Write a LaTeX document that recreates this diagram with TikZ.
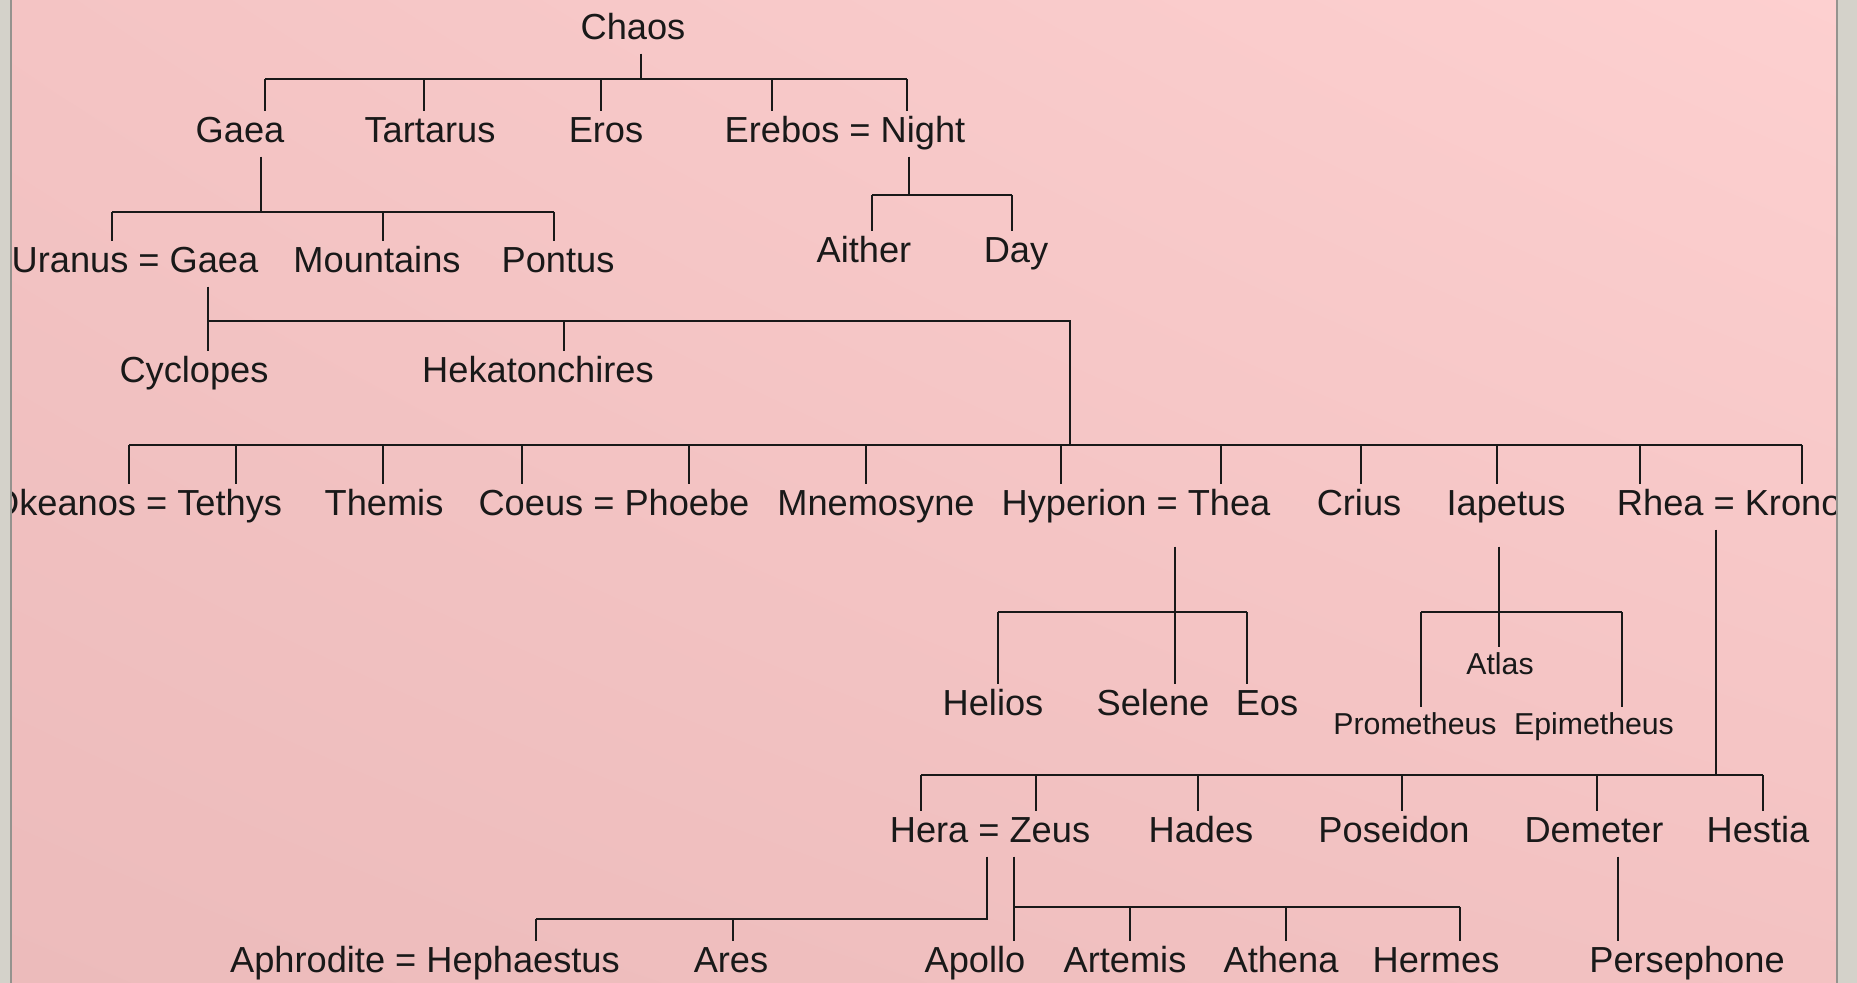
\documentclass[tikz,border=0pt]{standalone}
\usepackage{fontspec}
\setmainfont{Liberation Sans}
\usetikzlibrary{calc,shadings}
\definecolor{rosetop}{RGB}{253,208,208}
\definecolor{roseleft}{RGB}{244,196,196}
\definecolor{rosebottom}{RGB}{236,187,187}
\definecolor{roseright}{RGB}{243,194,194}
\definecolor{frame}{RGB}{212,210,202}
\definecolor{ink}{RGB}{25,25,25}
\tikzset{
  god/.style={font=\fontsize{10.3}{12}\selectfont,text=ink,text height=7.5pt,text depth=2.2pt,inner sep=1.5pt,anchor=base},
  minor/.style={god,font=\fontsize{8.6}{10}\selectfont,text height=6.3pt,text depth=1.9pt},
  kin/.style={draw=ink,line width=0.6pt}
}

\begin{document}
\begin{tikzpicture}[x=0.01cm,y=-0.01cm]
  \useasboundingbox (0,0) rectangle (1857,983);
  \shade[upper left=roseleft,upper right=rosetop,lower left=rosebottom,lower right=roseright] (0,0) rectangle (1857,983);

  % first generations
  \node[god] (chaos) at (633,40) {Chaos};
  \node[god] (gaea) at (240,143) {Gaea};
  \node[god] (tartarus) at (430,143) {Tartarus};
  \node[god] (eros) at (606,143) {Eros};
  \node[god] (erebos) at (845,143) {Erebos = Night};
  \node[god] (uranus) at (135,273) {Uranus = Gaea};
  \node[god] (mountains) at (377,273) {Mountains};
  \node[god] (pontus) at (558,273) {Pontus};
  \node[god] (aither) at (864,263) {Aither};
  \node[god] (day) at (1016,263) {Day};
  \node[god] (cyclopes) at (194,383) {Cyclopes};
  \node[god] (hekaton) at (538,383) {Hekatonchires};

  % titans
  \node[god,anchor=base east] (okeanos) at (288,516) {Okeanos = Tethys};
  \node[god] (themis) at (384,516) {Themis};
  \node[god] (coeus) at (614,516) {Coeus = Phoebe};
  \node[god] (mnemosyne) at (876,516) {Mnemosyne};
  \node[god] (hyperion) at (1136,516) {Hyperion = Thea};
  \node[god] (crius) at (1359,516) {Crius};
  \node[god] (iapetus) at (1506,516) {Iapetus};
  \node[god,anchor=base west] (rhea) at (1611,516) {Rhea = Kronos};

  \node[god] (helios) at (993,716) {Helios};
  \node[god] (selene) at (1153,716) {Selene};
  \node[god] (eos) at (1267,716) {Eos};
  \node[minor] (atlas) at (1500,675) {Atlas};
  \node[minor] (prometheus) at (1415,735) {Prometheus};
  \node[minor] (epimetheus) at (1594,735) {Epimetheus};

  % olympians
  \node[god] (hera) at (990,843) {Hera = Zeus};
  \node[god] (hades) at (1201,843) {Hades};
  \node[god] (poseidon) at (1394,843) {Poseidon};
  \node[god] (demeter) at (1594,843) {Demeter};
  \node[god] (hestia) at (1758,843) {Hestia};
  \node[god] (aphrodite) at (425,973) {Aphrodite = Hephaestus};
  \node[god] (ares) at (731,973) {Ares};
  \node[god] (apollo) at (975,973) {Apollo};
  \node[god] (artemis) at (1125,973) {Artemis};
  \node[god] (athena) at (1281,973) {Athena};
  \node[god] (hermes) at (1436,973) {Hermes};
  \node[god] (persephone) at (1687,973) {Persephone};

  % bar levels
  \coordinate (b0) at (0,79);
  \coordinate (b1) at (0,212);
  \coordinate (b2) at (0,195);
  \coordinate (b3) at (0,321);
  \coordinate (b4) at (0,445);
  \coordinate (b5) at (0,612);
  \coordinate (b6) at (0,775);
  \coordinate (b7) at (0,919);
  \coordinate (b8) at (0,907);

  % Chaos
  \draw[kin] (641,0 |- chaos.south) -- (641,0 |- b0);
  \draw[kin] (265,0 |- b0) -- (907,0 |- b0);
  \foreach \x/\n in {265/gaea,424/tartarus,601/eros,772/erebos,907/erebos}
    \draw[kin] (\x,0 |- b0) -- (\x,0 |- \n.north);

  % Gaea
  \draw[kin] (261,0 |- gaea.south) -- (261,0 |- b1);
  \draw[kin] (112,0 |- b1) -- (554,0 |- b1);
  \foreach \x/\n in {112/uranus,383/mountains,554/pontus}
    \draw[kin] (\x,0 |- b1) -- (\x,0 |- \n.north);

  % Night
  \draw[kin] (909,0 |- erebos.south) -- (909,0 |- b2);
  \draw[kin] (872,0 |- b2) -- (1012,0 |- b2);
  \foreach \x/\n in {872/aither,1012/day}
    \draw[kin] (\x,0 |- b2) -- (\x,0 |- \n.north);

  % Uranus and Gaea
  \draw[kin] (208,0 |- uranus.south) -- (208,0 |- cyclopes.north);
  \draw[kin] (208,0 |- b3) -- (1070,0 |- b3) -- (1070,0 |- b4);
  \draw[kin] (564,0 |- b3) -- (564,0 |- hekaton.north);
  \draw[kin] (129,0 |- b4) -- (1802,0 |- b4);
  \foreach \x/\n in {129/okeanos,236/okeanos,383/themis,522/coeus,689/coeus,866/mnemosyne,1061/hyperion,1221/hyperion,1361/crius,1497/iapetus,1640/rhea,1802/rhea}
    \draw[kin] (\x,0 |- b4) -- (\x,0 |- \n.north);

  % Hyperion and Iapetus
  \draw[kin] ($(1175,0 |- hyperion.south)+(0,17)$) -- (1175,0 |- selene.north);
  \draw[kin] (998,0 |- b5) -- (1247,0 |- b5);
  \foreach \x/\n in {998/helios,1247/eos}
    \draw[kin] (\x,0 |- b5) -- (\x,0 |- \n.north);
  \draw[kin] ($(1499,0 |- iapetus.south)+(0,17)$) -- (1499,0 |- atlas.north);
  \draw[kin] (1421,0 |- b5) -- (1622,0 |- b5);
  \foreach \x/\n in {1421/prometheus,1622/epimetheus}
    \draw[kin] (\x,0 |- b5) -- (\x,0 |- \n.north);

  % Rhea and Kronos
  \draw[kin] (1716,0 |- rhea.south) -- (1716,0 |- b6);
  \draw[kin] (921,0 |- b6) -- (1763,0 |- b6);
  \foreach \x/\n in {921/hera,1036/hera,1198/hades,1402/poseidon,1597/demeter,1763/hestia}
    \draw[kin] (\x,0 |- b6) -- (\x,0 |- \n.north);

  % Hera, Zeus, Demeter
  \draw[kin] (987,0 |- hera.south) -- (987,0 |- b7) -- (536,0 |- b7);
  \foreach \x/\n in {536/aphrodite,733/ares}
    \draw[kin] (\x,0 |- b7) -- (\x,0 |- \n.north);
  \draw[kin] (1014,0 |- hera.south) -- (1014,0 |- apollo.north);
  \draw[kin] (1014,0 |- b8) -- (1460,0 |- b8);
  \foreach \x/\n in {1130/artemis,1286/athena,1460/hermes}
    \draw[kin] (\x,0 |- b8) -- (\x,0 |- \n.north);
  \draw[kin] (1618,0 |- demeter.south) -- (1618,0 |- persephone.north);

  % window frame
  \fill[frame] (0,0) rectangle (10,983);
  \draw[frame!70!black,line width=0.5pt] (11,0) -- (11,983);
  \fill[frame] (1838,0) rectangle (1857,983);
  \draw[frame!70!black,line width=0.5pt] (1837,0) -- (1837,983);
\end{tikzpicture}
\end{document}
